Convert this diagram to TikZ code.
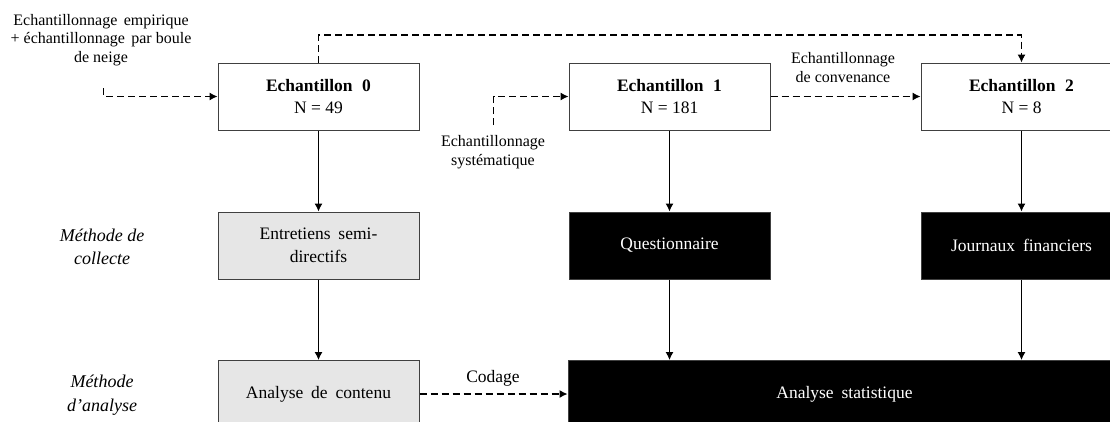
\documentclass[tikz,border=0pt]{standalone}
\usepackage{fontspec}
\setmainfont{Liberation Serif}
\usetikzlibrary{arrows.meta}
\definecolor{boxgray}{HTML}{E6E6E6}
\definecolor{edgecol}{HTML}{404040}
\tikzset{
 box/.style={draw=edgecol, line width=1pt, minimum width=201pt, minimum height=67pt, inner sep=0pt, align=center, font=\fontsize{17.5}{22.5}\selectfont},
 whitebox/.style={box, fill=white},
 graybox/.style={box, fill=boxgray},
 blackbox/.style={box, fill=black, text=white},
 lab/.style={align=center, inner sep=0pt, font=\fontsize{16}{18.5}\selectfont},
 meth/.style={align=center, inner sep=0pt, font=\fontsize{18}{23.5}\selectfont\itshape},
 arr/.style={line width=1.1pt, -{Latex[length=8pt,width=8pt]}},
 darr/.style={arr, dash pattern=on 7pt off 4pt},
}
\begin{document}
\begin{tikzpicture}[x=1pt,y=-1pt]
\clip (0,0) rectangle (1110,421);
\fill[white] (0,0) rectangle (1110,421);
% row 1
\node[whitebox] (e0) at (318.5,96.5) {\textbf{Echantillon\hspace{0.55em}0}\\N = 49};
\node[whitebox] (e1) at (669.5,96.5) {\textbf{Echantillon\hspace{0.55em}1}\\N = 181};
\node[whitebox] (e2) at (1021.5,96.5) {\textbf{Echantillon\hspace{0.55em}2}\\N = 8};
% row 2
\node[graybox] (c0) at (318.5,245.5) {Entretiens\hspace{0.45em}semi-\\directifs};
\node[blackbox] (c1) at (669.5,245.5) {Questionnaire};
\node[blackbox] (c2) at (1021.5,245.5) {Journaux\hspace{0.45em}financiers};
% row 3
\node[graybox] (a0) at (318.5,394) {Analyse\hspace{0.45em}de\hspace{0.45em}contenu};
\node[blackbox, minimum width=553pt] (a1) at (844.5,394) {Analyse\hspace{0.45em}statistique};
% labels
\node[lab] (l0) at (101,40) {Echantillonnage\hspace{0.4em}empirique\\+ échantillonnage\hspace{0.4em}par boule\\de neige};
\node[lab] (l1) at (493,152) {Echantillonnage\\systématique};
\node[lab] (l2) at (843,67.5) {Echantillonnage\\de convenance};
\node[lab, font=\fontsize{17.5}{21}\selectfont] (l3) at (493,378) {Codage};
\node[meth] (m1) at (102,247) {Méthode de\\collecte};
\node[meth] (m2) at (102,395) {Méthode\\d’analyse};
% coordinates
\coordinate (s0) at (103.5,88);
\coordinate (s1) at (493.5,125);
\coordinate (top) at (0,35);
% solid arrows
\draw[arr] (e0) -- (c0);
\draw[arr] (c0) -- (a0);
\draw[arr] (e1) -- (c1);
\draw[arr] (c1.south) -- (c1.south |- a1.north);
\draw[arr] (e2) -- (c2);
\draw[arr] (c2.south) -- (c2.south |- a1.north);
% dashed arrows
\draw[darr] (s0) |- (e0.west);
\draw[darr] (s1) |- (e1.west);
\draw[darr] (e1.east) -- (e2.west);
\draw[darr] (a0.east) -- (a1.west);
\draw[darr] (e0.north) -- (e0.north |- top) -| (e2.north);
\end{tikzpicture}
\end{document}
